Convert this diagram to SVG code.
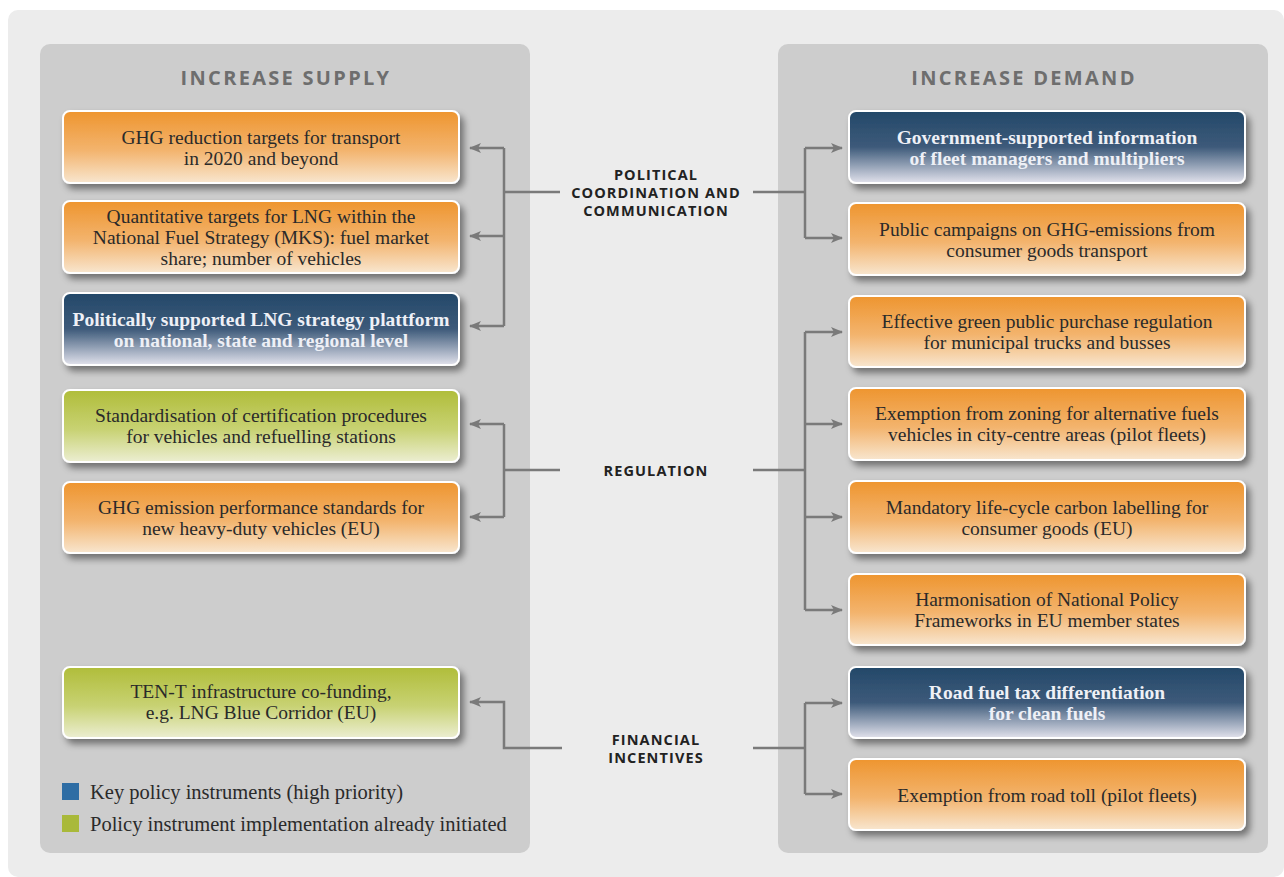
<svg xmlns="http://www.w3.org/2000/svg" width="1284" height="877" viewBox="0 0 1284 877">
<defs>
<linearGradient id="gO" x1="0" y1="0" x2="0" y2="1"><stop offset="0" stop-color="#ee952f"/><stop offset="0.55" stop-color="#f3b46e"/><stop offset="1" stop-color="#f8e6cf"/></linearGradient>
<linearGradient id="gB" x1="0" y1="0" x2="0" y2="1"><stop offset="0" stop-color="#234869"/><stop offset="0.5" stop-color="#3d5a7a"/><stop offset="1" stop-color="#e2e2ec"/></linearGradient>
<linearGradient id="gG" x1="0" y1="0" x2="0" y2="1"><stop offset="0" stop-color="#b0bd3a"/><stop offset="0.55" stop-color="#c8d273"/><stop offset="1" stop-color="#eceed2"/></linearGradient>
<filter id="sh" x="-5%" y="-20%" width="115%" height="150%"><feDropShadow dx="4" dy="5" stdDeviation="3.5" flood-color="#000" flood-opacity="0.45"/></filter>
<marker id="ar" viewBox="0 0 12 10" refX="11" refY="5" markerWidth="12" markerHeight="10" markerUnits="userSpaceOnUse" orient="auto"><path d="M0,0 L12,5 L0,10 L3,5 Z" fill="#7a7a7a"/></marker>
</defs>
<style>
.box{stroke:#ffffff;stroke-width:2;filter:url(#sh)}
.t{font-family:"Liberation Serif","DejaVu Serif",serif;font-size:19.5px;text-anchor:middle;fill:#2a2a2a}
.tw{font-family:"Liberation Serif","DejaVu Serif",serif;font-size:19.5px;font-weight:bold;text-anchor:middle;fill:#eef0f6}
.hd{font-family:"Open Sans","Liberation Sans",sans-serif;font-size:20px;font-weight:bold;fill:#6e6e6e;text-anchor:middle;letter-spacing:2.3px}
.lb{font-family:"Open Sans","Liberation Sans",sans-serif;font-size:14.5px;font-weight:bold;fill:#222;text-anchor:middle;letter-spacing:1.1px}
.ln{fill:none;stroke:#7a7a7a;stroke-width:2.5}
.lg{font-family:"Liberation Serif","DejaVu Serif",serif;font-size:20.5px;fill:#2a2a2a}
</style>
<rect x="0" y="0" width="1284" height="877" fill="#ffffff"/>
<rect x="8" y="10" width="1276" height="867" rx="10" fill="#ececec"/>
<rect x="40" y="44" width="490" height="809" rx="10" fill="#cdcdcd"/>
<rect x="778" y="44" width="490" height="809" rx="10" fill="#cdcdcd"/>
<text class="hd" x="286" y="85">INCREASE SUPPLY</text>
<text class="hd" x="1024" y="85">INCREASE DEMAND</text>

<g id="connectors">
<path class="ln" d="M560,192 H504"/>
<path class="ln" d="M504,148 V326"/>
<path class="ln" d="M504,148 H470" marker-end="url(#ar)"/>
<path class="ln" d="M504,236 H470" marker-end="url(#ar)"/>
<path class="ln" d="M504,326 H470" marker-end="url(#ar)"/>
<path class="ln" d="M753,192 H805"/>
<path class="ln" d="M805,148 V238"/>
<path class="ln" d="M805,148 H842" marker-end="url(#ar)"/>
<path class="ln" d="M805,238 H842" marker-end="url(#ar)"/>
<path class="ln" d="M560,470 H504"/>
<path class="ln" d="M504,424 V517"/>
<path class="ln" d="M504,424 H470" marker-end="url(#ar)"/>
<path class="ln" d="M504,517 H470" marker-end="url(#ar)"/>
<path class="ln" d="M753,470 H805"/>
<path class="ln" d="M805,332 V610"/>
<path class="ln" d="M805,332 H842" marker-end="url(#ar)"/>
<path class="ln" d="M805,424 H842" marker-end="url(#ar)"/>
<path class="ln" d="M805,517 H842" marker-end="url(#ar)"/>
<path class="ln" d="M805,610 H842" marker-end="url(#ar)"/>
<path class="ln" d="M562,748 H504 V702 H470" marker-end="url(#ar)"/>
<path class="ln" d="M753,748 H805"/>
<path class="ln" d="M805,703 V794"/>
<path class="ln" d="M805,703 H842" marker-end="url(#ar)"/>
<path class="ln" d="M805,794 H842" marker-end="url(#ar)"/>
</g>

<g id="label-political"><text class="lb" x="656" y="180">POLITICAL</text><text class="lb" x="656" y="198">COORDINATION AND</text><text class="lb" x="656" y="216">COMMUNICATION</text></g>
<g id="label-regulation"><text class="lb" x="656" y="476">REGULATION</text></g>
<g id="label-financial"><text class="lb" x="656" y="745">FINANCIAL</text><text class="lb" x="656" y="763">INCENTIVES</text></g>

<g id="s1"><rect class="box" x="63" y="111" width="396" height="72" rx="7" fill="url(#gO)"/><text class="t" x="261" y="144">GHG reduction targets for transport</text><text class="t" x="261" y="165">in 2020 and beyond</text></g>
<g id="s2"><rect class="box" x="63" y="201" width="396" height="72" rx="7" fill="url(#gO)"/><text class="t" x="261" y="223">Quantitative targets for LNG within the</text><text class="t" x="261" y="244">National Fuel Strategy (MKS): fuel market</text><text class="t" x="261" y="265">share; number of vehicles</text></g>
<g id="s3"><rect class="box" x="63" y="293" width="396" height="72" rx="7" fill="url(#gB)"/><text class="tw" x="261" y="326">Politically supported LNG strategy plattform</text><text class="tw" x="261" y="347">on national, state and regional level</text></g>
<g id="s4"><rect class="box" x="63" y="390" width="396" height="72" rx="7" fill="url(#gG)"/><text class="t" x="261" y="422">Standardisation of certification procedures</text><text class="t" x="261" y="443">for vehicles and refuelling stations</text></g>
<g id="s5"><rect class="box" x="63" y="482" width="396" height="71" rx="7" fill="url(#gO)"/><text class="t" x="261" y="514">GHG emission performance standards for</text><text class="t" x="261" y="535">new heavy-duty vehicles (EU)</text></g>
<g id="s6"><rect class="box" x="63" y="667" width="396" height="71" rx="7" fill="url(#gG)"/><text class="t" x="261" y="698">TEN-T infrastructure co-funding,</text><text class="t" x="261" y="719">e.g. LNG Blue Corridor (EU)</text></g>

<g id="d1"><rect class="box" x="849" y="111" width="396" height="72" rx="7" fill="url(#gB)"/><text class="tw" x="1047" y="144">Government-supported information</text><text class="tw" x="1047" y="165">of fleet managers and multipliers</text></g>
<g id="d2"><rect class="box" x="849" y="203" width="396" height="72" rx="7" fill="url(#gO)"/><text class="t" x="1047" y="236">Public campaigns on GHG-emissions from</text><text class="t" x="1047" y="257">consumer goods transport</text></g>
<g id="d3"><rect class="box" x="849" y="296" width="396" height="71" rx="7" fill="url(#gO)"/><text class="t" x="1047" y="328">Effective green public purchase regulation</text><text class="t" x="1047" y="349">for municipal trucks and busses</text></g>
<g id="d4"><rect class="box" x="849" y="388" width="396" height="72" rx="7" fill="url(#gO)"/><text class="t" x="1047" y="420">Exemption from zoning for alternative fuels</text><text class="t" x="1047" y="441">vehicles in city-centre areas (pilot fleets)</text></g>
<g id="d5"><rect class="box" x="849" y="481" width="396" height="72" rx="7" fill="url(#gO)"/><text class="t" x="1047" y="514">Mandatory life-cycle carbon labelling for</text><text class="t" x="1047" y="535">consumer goods (EU)</text></g>
<g id="d6"><rect class="box" x="849" y="574" width="396" height="71" rx="7" fill="url(#gO)"/><text class="t" x="1047" y="606">Harmonisation of National Policy</text><text class="t" x="1047" y="627">Frameworks in EU member states</text></g>
<g id="d7"><rect class="box" x="849" y="667" width="396" height="71" rx="7" fill="url(#gB)"/><text class="tw" x="1047" y="699">Road fuel tax differentiation</text><text class="tw" x="1047" y="720">for clean fuels</text></g>
<g id="d8"><rect class="box" x="849" y="759" width="396" height="71" rx="7" fill="url(#gO)"/><text class="t" x="1047" y="802">Exemption from road toll (pilot fleets)</text></g>

<g id="legend">
<rect x="62" y="783" width="17" height="17" fill="#2e6da4"/>
<text class="lg" x="90" y="799">Key policy instruments (high priority)</text>
<rect x="62" y="815" width="17" height="17" fill="#a9b93a"/>
<text class="lg" x="90" y="831">Policy instrument implementation already initiated</text>
</g>
</svg>
